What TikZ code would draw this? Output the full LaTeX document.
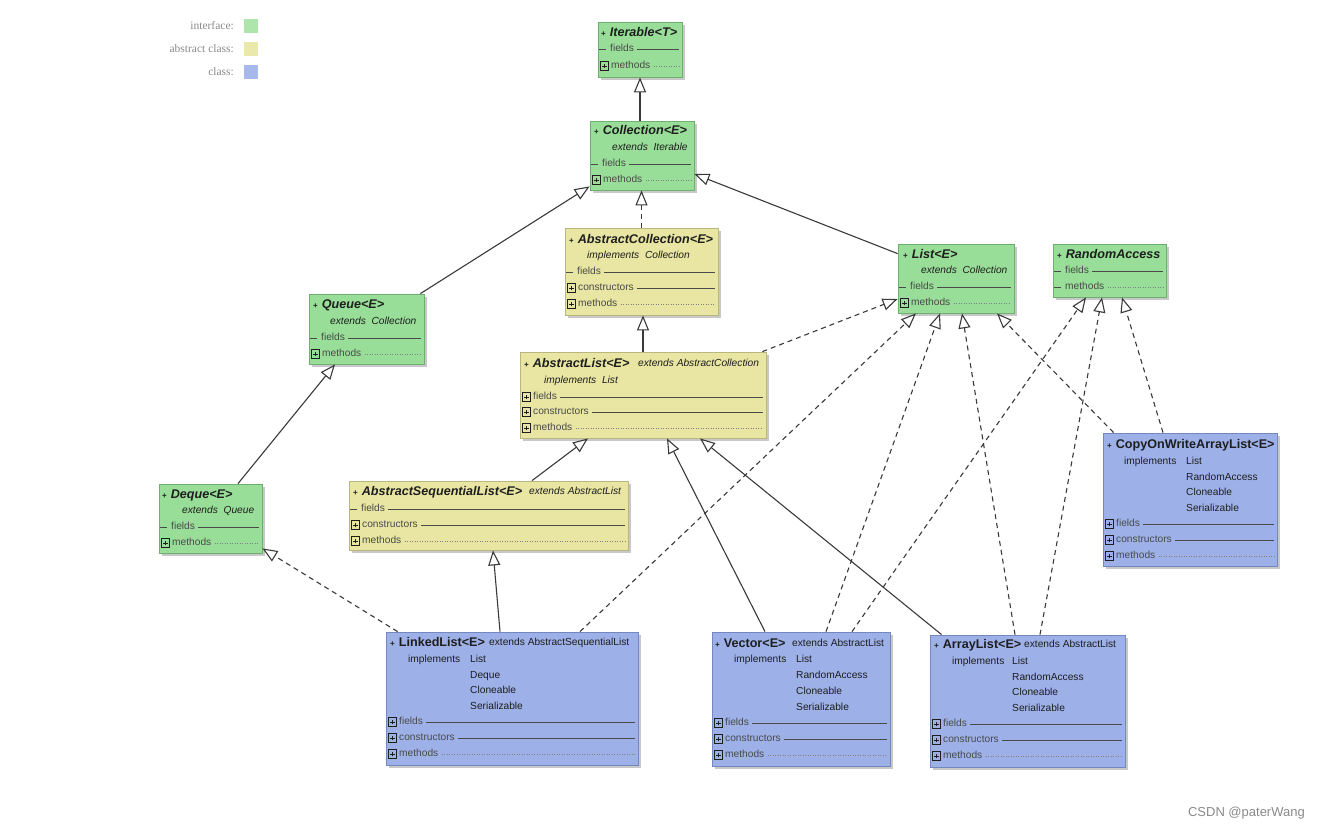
\documentclass[tikz,border=0pt]{standalone}
\usepackage{fontspec}
\setmainfont{Liberation Sans}
\newfontfamily\legfont{Liberation Serif}
\usetikzlibrary{arrows.meta,fit,calc}
\definecolor{ifcF}{HTML}{98DE98}
\definecolor{ifcB}{HTML}{6FB06F}
\definecolor{absF}{HTML}{E8E6A2}
\definecolor{absB}{HTML}{B9B77E}
\definecolor{clsF}{HTML}{9DB1E8}
\definecolor{clsB}{HTML}{7487BF}
\definecolor{shC}{HTML}{C8C8C8}
\definecolor{lineC}{HTML}{3A3A3A}
\definecolor{txtC}{HTML}{1E1E1E}
\definecolor{subC}{HTML}{4A4A4A}
\definecolor{legC}{HTML}{8A8A8A}
\tikzset{
  ifc/.style={draw=ifcB, fill=ifcF, inner sep=0pt, line width=0.8pt},
  abst/.style={draw=absB, fill=absF, inner sep=0pt, line width=0.8pt},
  cls/.style={draw=clsB, fill=clsF, inner sep=0pt, line width=0.8pt},
  ttl/.style={anchor=west, inner sep=0pt, text=txtC, font=\fontsize{12.6}{14}\selectfont, text height=9pt, text depth=3pt},
  lbl/.style={anchor=west, inner sep=0pt, text=subC, font=\fontsize{10.2}{12}\selectfont, text height=7.5pt, text depth=2pt},
  sub/.style={anchor=west, inner sep=0pt, text=txtC, font=\fontsize{10.2}{12}\selectfont, text height=7.5pt, text depth=2pt},
  cl/.style={draw=subC, line width=0.7pt},
  dl/.style={draw=subC!70, line width=0.5pt, dotted},
  pbox/.style={draw=txtC, minimum size=8.5pt, inner sep=0pt, line width=0.7pt,
    path picture={\draw[line width=1pt,txtC] ([xshift=1.8pt]path picture bounding box.west) -- ([xshift=-1.8pt]path picture bounding box.east)
      ([yshift=1.8pt]path picture bounding box.south) -- ([yshift=-1.8pt]path picture bounding box.north);}},
  gen/.style={draw=lineC, line width=1.1pt, -{Triangle[open, length=15pt, width=12pt, line width=1.1pt]}},
  real/.style={gen, dash pattern=on 5pt off 4pt},
  legtxt/.style={anchor=east, inner sep=0pt, text=legC, font=\legfont\fontsize{11.5}{13}\selectfont},
  legsw/.style={minimum size=14pt, inner sep=0pt},
}
% box: name, style, x1,y1,x2,y2
\newcommand\umlbox[6]{%
  \fill[shC] (#3+2.5,#4+2.5) rectangle (#5+2.5,#6+2.5);
  \node[#2, fit={(#3,#4) (#5,#6)}] (#1) {};}
% row: name, xl, xr, y, label, prefix (d or p), line style
\newcommand\umlrow[7]{%
  \if#6p\node[pbox] (#1b) at (#2+6.5,#4) {};\node[lbl] (#1) at (#2+13,#4) {#5};%
  \else\draw[cl] (#2+1,#4) -- (#2+8,#4);\node[lbl] (#1) at (#2+12,#4) {#5};\fi
  \draw[#7] ([xshift=3pt]#1.east) -- (#3-3,#4);}
\newcommand\pl{{\fontsize{8}{9}\selectfont\bfseries +}\hspace{4pt}}
\begin{document}
\begin{tikzpicture}[x=1pt,y=-1pt]
\useasboundingbox (0,0) rectangle (1320,831);
\fill[white] (0,0) rectangle (1320,831);

% legend
\node[legtxt] (lg1) at (234,26) {interface:};
\node[legtxt] (lg2) at (234,49) {abstract class:};
\node[legtxt] (lg3) at (234,72) {class:};
\node[legsw, fill=ifcF!80] (sw1) at (251,26) {};
\node[legsw, fill=absF!90] (sw2) at (251,49) {};
\node[legsw, fill=clsF!90] (sw3) at (251,72) {};

% Iterable
\umlbox{iter}{ifc}{598}{22}{682}{77}
\node[ttl] (iterT) at (601,33) {\pl\bfseries\itshape Iterable<T>};
\umlrow{iterF}{598}{682}{49}{fields}{d}{cl}
\umlrow{iterM}{598}{682}{66}{methods}{p}{dl}

% Collection
\umlbox{coll}{ifc}{590}{121}{694}{190}
\node[ttl] (collT) at (594,131) {\pl\bfseries\itshape Collection<E>};
\node[sub] (collE) at (612,148) {\itshape extends\ \ Iterable};
\umlrow{collF}{590}{694}{164}{fields}{d}{cl}
\umlrow{collM}{590}{694}{180}{methods}{p}{dl}

% AbstractCollection
\umlbox{abscoll}{abst}{565}{228}{718}{315}
\node[ttl] (acT) at (569,240) {\pl\bfseries\itshape AbstractCollection<E>};
\node[sub] (acI) at (587,256) {\itshape implements\ \ Collection};
\umlrow{acF}{565}{718}{272}{fields}{d}{cl}
\umlrow{acC}{565}{718}{288}{constructors}{p}{cl}
\umlrow{acM}{565}{718}{304}{methods}{p}{dl}

% List
\umlbox{list}{ifc}{898}{244}{1014}{313}
\node[ttl] (listT) at (903,255) {\pl\bfseries\itshape List<E>};
\node[sub] (listE) at (921,271) {\itshape extends\ \ Collection};
\umlrow{listF}{898}{1014}{287}{fields}{d}{cl}
\umlrow{listM}{898}{1014}{303}{methods}{p}{dl}

% RandomAccess
\umlbox{ra}{ifc}{1053}{244}{1166}{297}
\node[ttl] (raT) at (1057,255) {\pl\bfseries\itshape RandomAccess};
\umlrow{raF}{1053}{1166}{271}{fields}{d}{cl}
\umlrow{raM}{1053}{1166}{287}{methods}{d}{dl}

% Queue
\umlbox{queue}{ifc}{309}{294}{424}{364}
\node[ttl] (qT) at (313,305) {\pl\bfseries\itshape Queue<E>};
\node[sub] (qE) at (330,322) {\itshape extends\ \ Collection};
\umlrow{qF}{309}{424}{338}{fields}{d}{cl}
\umlrow{qM}{309}{424}{354}{methods}{p}{dl}

% AbstractList
\umlbox{abslist}{abst}{520}{352}{766}{438}
\node[ttl] (alT) at (524,364) {\pl\bfseries\itshape AbstractList<E>};
\node[sub] (alX) at (638,364) {\itshape extends AbstractCollection};
\node[sub] (alI) at (544,381) {\itshape implements\ \ List};
\umlrow{alF}{520}{766}{397}{fields}{p}{cl}
\umlrow{alC}{520}{766}{412}{constructors}{p}{cl}
\umlrow{alM}{520}{766}{428}{methods}{p}{dl}

% Deque
\umlbox{deque}{ifc}{159}{484}{262}{553}
\node[ttl] (dT) at (162,495) {\pl\bfseries\itshape Deque<E>};
\node[sub] (dE) at (182,511) {\itshape extends\ \ Queue};
\umlrow{dF}{159}{262}{527}{fields}{d}{cl}
\umlrow{dM}{159}{262}{543}{methods}{p}{dl}

% AbstractSequentialList
\umlbox{asl}{abst}{349}{481}{628}{550}
\node[ttl] (aslT) at (353,492) {\pl\bfseries\itshape AbstractSequentialList<E>};
\node[sub] (aslX) at (529,492) {\itshape extends AbstractList};
\umlrow{aslF}{349}{628}{509}{fields}{d}{cl}
\umlrow{aslC}{349}{628}{525}{constructors}{p}{cl}
\umlrow{aslM}{349}{628}{541}{methods}{p}{dl}

% LinkedList
\umlbox{ll}{cls}{386}{632}{638}{765}
\node[ttl] (llT) at (390,643) {\pl\bfseries LinkedList<E>};
\node[sub] (llX) at (489,643) {extends AbstractSequentialList};
\node[sub] (llI) at (408,660) {implements};
\node[sub] (llI1) at (470,660) {List};
\node[sub] (llI2) at (470,676) {Deque};
\node[sub] (llI3) at (470,691) {Cloneable};
\node[sub] (llI4) at (470,707) {Serializable};
\umlrow{llF}{386}{638}{722}{fields}{p}{cl}
\umlrow{llC}{386}{638}{738}{constructors}{p}{cl}
\umlrow{llM}{386}{638}{754}{methods}{p}{dl}

% Vector
\umlbox{vec}{cls}{712}{632}{890}{766}
\node[ttl] (vT) at (715,644) {\pl\bfseries Vector<E>};
\node[sub] (vX) at (792,644) {extends AbstractList};
\node[sub] (vI) at (734,660) {implements};
\node[sub] (vI1) at (796,660) {List};
\node[sub] (vI2) at (796,676) {RandomAccess};
\node[sub] (vI3) at (796,692) {Cloneable};
\node[sub] (vI4) at (796,708) {Serializable};
\umlrow{vF}{712}{890}{723}{fields}{p}{cl}
\umlrow{vC}{712}{890}{739}{constructors}{p}{cl}
\umlrow{vM}{712}{890}{755}{methods}{p}{dl}

% ArrayList
\umlbox{al}{cls}{930}{635}{1125}{767}
\node[ttl] (aT) at (934,645) {\pl\bfseries ArrayList<E>};
\node[sub] (aX) at (1024,645) {extends AbstractList};
\node[sub] (aI) at (952,662) {implements};
\node[sub] (aI1) at (1012,662) {List};
\node[sub] (aI2) at (1012,678) {RandomAccess};
\node[sub] (aI3) at (1012,693) {Cloneable};
\node[sub] (aI4) at (1012,709) {Serializable};
\umlrow{aF}{930}{1125}{724}{fields}{p}{cl}
\umlrow{aC}{930}{1125}{740}{constructors}{p}{cl}
\umlrow{aM}{930}{1125}{756}{methods}{p}{dl}

% CopyOnWriteArrayList
\umlbox{cow}{cls}{1103}{433}{1277}{566}
\node[ttl] (cT) at (1107,445) {\pl\bfseries CopyOnWriteArrayList<E>};
\node[sub] (cI) at (1124,462) {implements};
\node[sub] (cI1) at (1186,462) {List};
\node[sub] (cI2) at (1186,478) {RandomAccess};
\node[sub] (cI3) at (1186,493) {Cloneable};
\node[sub] (cI4) at (1186,509) {Serializable};
\umlrow{cF}{1103}{1277}{524}{fields}{p}{cl}
\umlrow{cC}{1103}{1277}{540}{constructors}{p}{cl}
\umlrow{cM}{1103}{1277}{556}{methods}{p}{dl}

% connectors
\draw[gen] (coll.north -| iter.south) -- (iter.south);
\draw[gen] ([xshift=-4pt]queue.north east) -- ([yshift=4pt]coll.south west);
\draw[real] (abscoll.north) -- (abscoll.north |- coll.south);
\draw[gen] ([yshift=-10pt]list.north west) -- ([yshift=-18.5pt]coll.east);
\draw[gen] (abslist.north) -- (abslist.north |- abscoll.south);
\draw[real] ([xshift=-4pt]abslist.north east) -- ([yshift=-20.5pt]list.west);
\draw[gen] ([xshift=27.5pt]deque.north) -- ([xshift=-31.5pt]queue.south);
\draw[gen] ([xshift=43.5pt]asl.north) -- ([xshift=-55pt]abslist.south);
\draw[real] ([xshift=12pt]ll.north west) -- ([yshift=5pt]deque.south east);
\draw[gen] ([xshift=-12pt]ll.north) -- ([xshift=4.5pt]asl.south);
\draw[real] ([xshift=68pt]ll.north) -- ([xshift=-40pt]list.south);
\draw[gen] ([xshift=-36pt]vec.north) -- ([xshift=24pt]abslist.south);
\draw[real] ([xshift=25pt]vec.north) -- ([xshift=-16pt]list.south);
\draw[real] ([xshift=51pt]vec.north) -- ([xshift=-23.5pt]ra.south);
\draw[gen] ([xshift=12pt]al.north west) -- ([xshift=57pt]abslist.south);
\draw[real] ([xshift=-12.5pt]al.north) -- ([xshift=6pt]list.south);
\draw[real] ([xshift=12.5pt]al.north) -- ([xshift=-7.5pt]ra.south);
\draw[real] ([xshift=11pt]cow.north west) -- ([xshift=41pt]list.south);
\draw[real] ([xshift=-27pt]cow.north) -- ([xshift=12.5pt]ra.south);

% watermark
\node[anchor=east, inner sep=0pt, text=legC, font=\fontsize{13}{14}\selectfont] (wm) at (1305,813) {CSDN @paterWang};
\end{tikzpicture}
\end{document}
